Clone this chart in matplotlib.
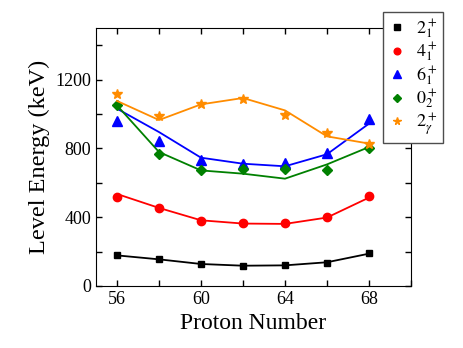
import numpy as np
import matplotlib
matplotlib.use('Agg')
import matplotlib.pyplot as plt
import matplotlib.ticker as mticker

plt.rcParams['font.family'] = ['Liberation Serif', 'DejaVu Serif']
plt.rcParams['mathtext.fontset'] = 'stix'

proton = [56, 58, 60, 62, 64, 66, 68]

# measured points
e21 = [178, 155, 128, 118, 120, 136, 190]
e41 = [516, 454, 380, 365, 368, 401, 525]
e61 = [959, 841, 730, 712, 715, 771, 970]
e02 = [1050, 767, 674, 682, 678, 672, 802]
e2g = [1114, 987, 1056, 1085, 994, 890, 828]

# calculated lines
c21 = [178, 155, 128, 118, 120, 138, 188]
c41 = [535, 454, 382, 363, 361, 398, 514]
c61 = [1031, 895, 746, 711, 696, 766, 944]
c02 = [1050, 779, 672, 653, 624, 707, 808]
c2g = [1076, 965, 1056, 1093, 1021, 870, 828]

labels = [r'$2_1^+$', r'$4_1^+$', r'$6_1^+$', r'$0_2^+$', r'$2_\gamma^+$']
colors = ['black', 'red', 'blue', 'green', 'darkorange']
markers = ['s', 'o', '^', 'D', '*']
msizes = [5, 6, 6.5, 5.5, 7]

fig = plt.figure(figsize=(4.63, 3.48), dpi=100)
ax = fig.add_axes([96 / 463, 1 - 286 / 348, 315 / 463, 258 / 348])

points = [e21, e41, e61, e02, e2g]
lines = [c21, c41, c61, c02, c2g]
handles = []
for pts, ln, lab, col, mk, ms in zip(points, lines, labels, colors, markers, msizes):
    ax.plot(proton, ln, color=col, lw=1.3)
    h, = ax.plot(proton, pts, ls='none', marker=mk, color=col, ms=ms, label=lab)
    handles.append(h)

ax.set_xlim(55, 70)
ax.set_ylim(0, 1500)
ax.xaxis.set_major_locator(mticker.MultipleLocator(4))
ax.xaxis.set_minor_locator(mticker.MultipleLocator(2))
ax.yaxis.set_major_locator(mticker.MultipleLocator(400))
ax.yaxis.set_minor_locator(mticker.MultipleLocator(200))
ax.tick_params(which='both', direction='in', top=True, right=True, length=4, width=1,
               labelsize=13)
ax.set_xlabel('Proton Number', fontsize=17)
ax.set_ylabel('Level Energy (keV)', fontsize=17.5)

fig.legend(handles=handles, loc='upper left', bbox_to_anchor=(383 / 463, 1 - 12 / 348),
           bbox_transform=fig.transFigure, fontsize=13, frameon=True, fancybox=False,
           edgecolor='0.3', framealpha=1, handlelength=1.0, handletextpad=0.55,
           labelspacing=0.0, borderpad=0.3, borderaxespad=0, markerscale=0.8)

fig.savefig('out.png', dpi=100)
